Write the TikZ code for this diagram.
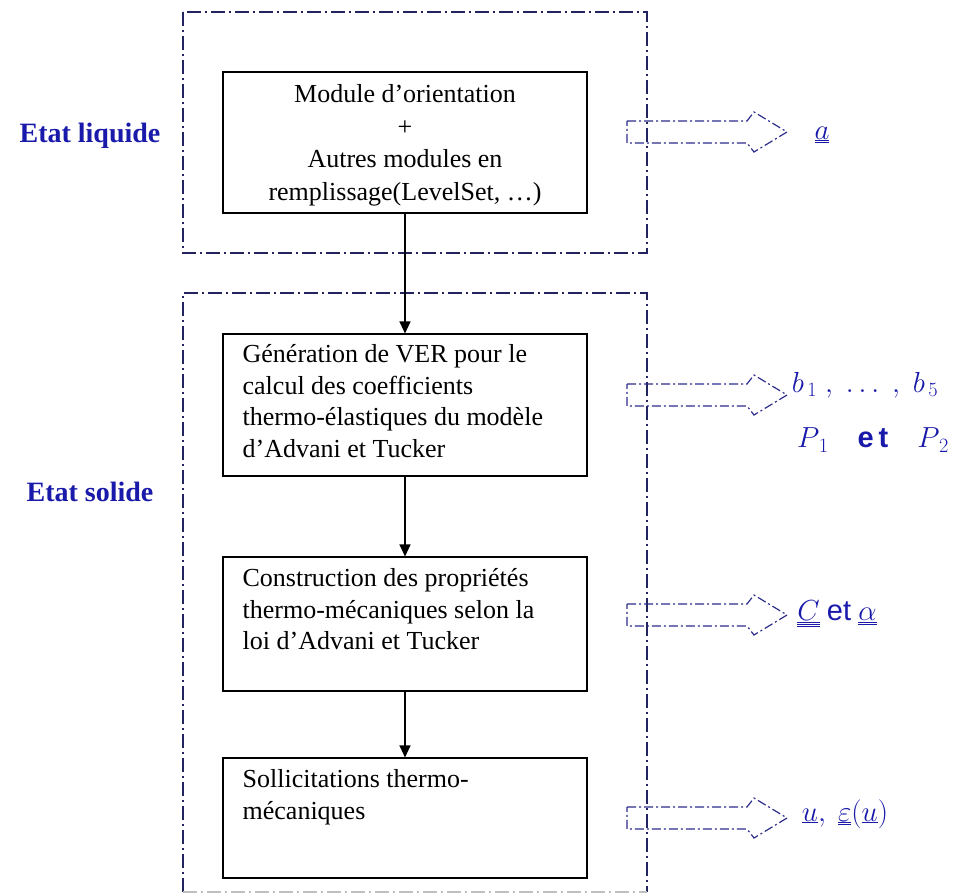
\RequirePackage{fix-cm}
\documentclass[tikz,border=0pt]{standalone}
\usepackage{fontspec}
\setmainfont{Liberation Serif}
\newfontfamily\arialfont{Liberation Sans}
\usetikzlibrary{arrows.meta}

\definecolor{framenavy}{RGB}{35,35,95}
\definecolor{arrowblue}{RGB}{45,45,140}
\definecolor{labelblue}{RGB}{25,25,170}

\begin{document}
\begin{tikzpicture}[x=1pt, y=-1pt,
  stage/.style={draw, line width=1.1pt, minimum width=364pt, inner sep=0pt},
  stagetext/.style={anchor=north west, align=left, inner sep=0pt, font=\fontsize{26}{31.5}\selectfont},
  phase/.style={draw=framenavy, line width=1.2pt, dash pattern=on 14pt off 4pt on 2pt off 4pt},
  outflow/.style={draw=arrowblue, line width=1.2pt, dash pattern=on 9pt off 3pt on 2pt off 3pt},
  phaselabel/.style={text=labelblue, font=\fontsize{28}{32}\selectfont\bfseries},
  result/.style={text=labelblue, font=\fontsize{29}{34}\selectfont},
  flow/.style={-{Triangle[length=12pt,width=11pt]}, line width=1.1pt}]
  \useasboundingbox (0,0) rectangle (956,896);
  % phase frames
  \draw[phase] (183,12) rectangle (647,253);
  \draw[phase] (183,892) -- (183,293) -- (647,293) -- (647,892);
  \draw[phase, draw=black!25] (183,892) -- (647,892);
  \node[phaselabel] (liquide) at (90,136) {Etat liquide};
  \node[phaselabel] (solide) at (90,492) {Etat solide};
  % stages
  \node[stage, minimum height=141pt] (orient) at (405,142.5) {};
  \node[stage, minimum height=142pt] (ver) at (405,405) {};
  \node[stage, minimum height=134pt] (loi) at (405,624) {};
  \node[stage, minimum height=120pt] (sollic) at (405,818) {};
  \node[stagetext, anchor=center, align=center, font=\fontsize{26}{32.5}\selectfont] (orienttxt) at ([yshift=-3pt]orient.center)
    {Module d’orientation\\+\\Autres modules en\\remplissage(LevelSet, …)};
  \node[stagetext] (vertxt) at ([shift={(20,11)}]ver.north west)
    {Génération de VER pour le\\calcul des coefficients\\thermo-élastiques du modèle\\d’Advani et Tucker};
  \node[stagetext] (loitxt) at ([shift={(20,12)}]loi.north west)
    {Construction des propriétés\\thermo-mécaniques selon la\\loi d’Advani et Tucker};
  \node[stagetext] (sollictxt) at ([shift={(20,12)}]sollic.north west)
    {Sollicitations thermo-\\mécaniques};
  \draw[flow] (orient) -- (ver);
  \draw[flow] (ver) -- (loi);
  \draw[flow] (loi) -- (sollic);
  % outputs
  \foreach \yc in {132,395,615,818} {
    \draw[outflow] (627,\yc-11) -- (747,\yc-11) -- (754,\yc-20) -- (787,\yc)
      -- (754,\yc+20) -- (747,\yc+11) -- (627,\yc+11) -- cycle;
  }
  \node[result] (orientres) at (822,135) {$\underline{\underline{a}}$};
  \node[result] (verres) at (865,385) {$b_{\,1}\;,\;\ldots\;,\;b_{\,5}$};
  \node[result] (verrestwo) at (873,440) {$P_{\,1}$\quad{\arialfont\bfseries e\,t}\quad$P_{\,2}$};
  \node[result] (loires) at (837,614) {$\underline{\underline{\underline{C}}}$ {\arialfont et} $\underline{\underline{\alpha}}$};
  \node[result] (sollicres) at (845,814) {$\underline{u},\ \underline{\underline{\varepsilon}}(\underline{u})$};
\end{tikzpicture}
\end{document}
